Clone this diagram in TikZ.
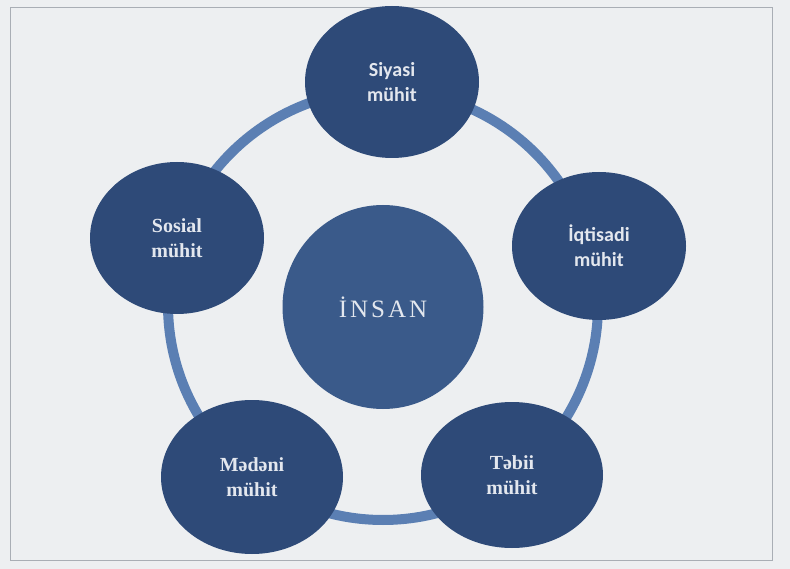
\documentclass[tikz,border=0pt]{standalone}
\usepackage{fontspec}
\setmainfont{Liberation Serif}
\newfontfamily\labsans{Carlito}
\usetikzlibrary{shapes.geometric}
\definecolor{bg}{HTML}{EDEFF1}
\definecolor{ringc}{HTML}{5B7FB3}
\definecolor{navy}{HTML}{2E4A78}
\definecolor{core}{HTML}{3A5A8A}
\definecolor{txt}{HTML}{E3E7EE}
\definecolor{framec}{HTML}{A9AEB5}
\begin{document}
\begin{tikzpicture}[x=1pt,y=-1pt,
  envbox/.style={ellipse, fill=navy, inner sep=0pt, text=txt, align=center,
    font=\fontsize{20}{25}\selectfont\bfseries},
  sansenv/.style={envbox, font=\labsans\fontsize{20}{25}\selectfont\bfseries},
  corebox/.style={ellipse, fill=core, inner sep=0pt, text=txt,
    font=\fontsize{25}{30}\selectfont},
  ringline/.style={draw=ringc, line width=10pt},
  framebox/.style={draw=framec, line width=0.8pt}]
\fill[bg] (0,0) rectangle (790,569);
\useasboundingbox (0,0) rectangle (790,569);
\draw[framebox] (10,7) rectangle (772,560);
\coordinate (ringcenter) at (383,305);
\draw[ringline] (ringcenter) circle[radius=215];
\node[corebox, minimum width=201pt, minimum height=204pt] (insan) at (383,307)
  {İ\kern3pt N\kern3pt S\kern3pt A\kern3pt N};
\node[sansenv, minimum width=174pt, minimum height=152pt] (siyasi) at (392,82)
  {Siyasi\\mühit};
\node[envbox, minimum width=174pt, minimum height=152pt] (sosial) at (177,238)
  {Sosial\\mühit};
\node[sansenv, minimum width=174pt, minimum height=148pt] (iqtisadi) at (599,246)
  {İqtisadi\\mühit};
\node[envbox, minimum width=182pt, minimum height=154pt] (medeni) at (252,477)
  {Mədəni\\mühit};
\node[envbox, minimum width=182pt, minimum height=146pt] (tebii) at (512,475)
  {Təbii\\mühit};
\end{tikzpicture}
\end{document}
